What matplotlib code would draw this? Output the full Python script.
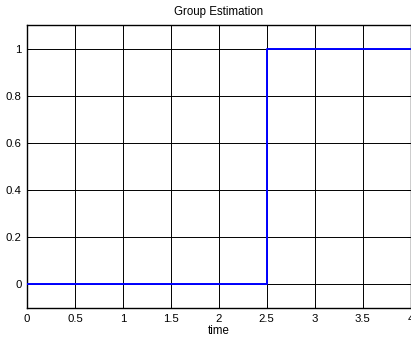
import numpy as np
import matplotlib.pyplot as plt

plt.rcParams['font.family'] = ['Liberation Sans', 'DejaVu Sans']

# estimated group switches from 0 to 1 at t = 2.5
time = [0, 2.5, 2.5, 4]
group = [0, 0, 1, 1]

xticks = [0, 0.5, 1, 1.5, 2, 2.5, 3, 3.5, 4]
yticks = [0, 0.2, 0.4, 0.6, 0.8, 1]

fig = plt.figure(figsize=(4.11, 3.38), dpi=100)
ax = fig.add_axes([27 / 411, 30 / 338, 383.5 / 411, 283 / 338])

ax.plot(time, group, color='#0000ff', linewidth=1.4, zorder=3)

ax.set_xlim(0, 4)
ax.set_ylim(-0.1, 1.1)
ax.set_xticks(xticks)
ax.set_xticklabels(['0', '0.5', '1', '1.5', '2', '2.5', '3', '3.5', '4'])
ax.set_yticks(yticks)
ax.set_yticklabels(['0', '0.2', '0.4', '0.6', '0.8', '1'])
ax.grid(True, color='black', linestyle='-', linewidth=0.7)
ax.tick_params(direction='in', length=3, labelsize=8.2, top=True, right=True,
               width=0.7, pad=4)
for s in ax.spines.values():
    s.set_linewidth(1.0)

ax.set_title('Group Estimation', fontsize=8.3, pad=7)
ax.set_xlabel('time', fontsize=8.3, labelpad=1)

fig.savefig('out.png', dpi=100)
